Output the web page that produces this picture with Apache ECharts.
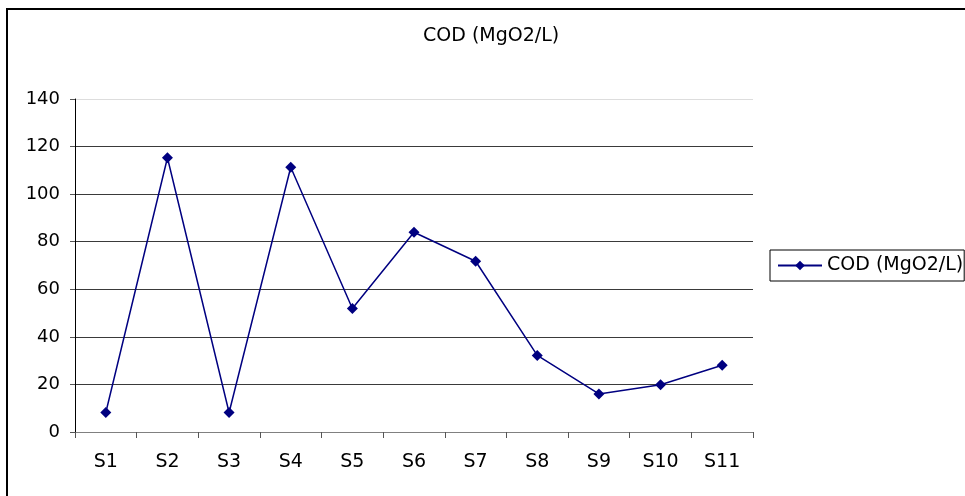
<!DOCTYPE html>
<html>
<head>
<meta charset="utf-8">
<script src="https://cdn.jsdelivr.net/npm/echarts@6/dist/echarts.min.js"></script>
<style>
html,body{margin:0;padding:0;background:#fff;}
#chart{width:965px;height:496px;}
</style>
</head>
<body>
<div id="chart"></div>
<script>
var categories = ['S1','S2','S3','S4','S5','S6','S7','S8','S9','S10','S11'];
var codValues = [8.2, 115.3, 8.2, 111.3, 51.9, 84, 71.8, 32.2, 16, 19.9, 28.1];
var seriesName = 'COD (MgO2/L)';
var titleText = 'COD (MgO2/L)';

var FONT = "'DejaVu Sans', sans-serif";
var chart = echarts.init(document.getElementById('chart'));
chart.setOption({
  animation: false,
  backgroundColor: '#fff',
  graphic: [{
    type: 'rect',
    shape: {x: 7, y: 9, width: 1000, height: 600},
    style: {fill: 'none', stroke: '#000', lineWidth: 2},
    silent: true
  }],
  title: {
    text: titleText,
    left: 423, top: 27,
    padding: 0,
    textStyle: {fontFamily: FONT, fontSize: 19, fontWeight: 'normal', color: '#000'}
  },
  legend: {
    left: 770, top: 250,
    orient: 'vertical',
    padding: [6, 1, 6, 7],
    borderColor: '#000', borderWidth: 1,
    itemWidth: 44, itemHeight: 12,
    textStyle: {fontFamily: FONT, fontSize: 19, color: '#000'},
    data: [seriesName]
  },
  grid: {left: 75, right: 212, top: 99, bottom: 64, containLabel: false},
  xAxis: {
    type: 'category',
    data: categories,
    boundaryGap: true,
    axisLine: {lineStyle: {color: '#808080', width: 1}},
    axisTick: {show: true, length: 6, lineStyle: {color: '#555'}},
    axisLabel: {margin: 21, fontFamily: FONT, fontSize: 19, color: '#000'}
  },
  yAxis: {
    type: 'value',
    min: 0, max: 140, interval: 20,
    axisLine: {show: true, lineStyle: {color: '#000', width: 1}},
    axisTick: {show: true, length: 5, lineStyle: {color: '#555'}},
    axisLabel: {margin: 15, fontFamily: FONT, fontSize: 18, color: '#000'},
    splitLine: {show: true, lineStyle: {color: ['#3a3a3a','#3a3a3a','#3a3a3a','#3a3a3a','#3a3a3a','#3a3a3a','#3a3a3a','#ddd'], width: 1}}
  },
  series: [{
    name: seriesName,
    type: 'line',
    data: codValues,
    symbol: 'diamond',
    symbolSize: 11,
    itemStyle: {color: '#000080'},
    lineStyle: {color: '#000080', width: 1.5}
  }]
});
</script>
</body>
</html>
